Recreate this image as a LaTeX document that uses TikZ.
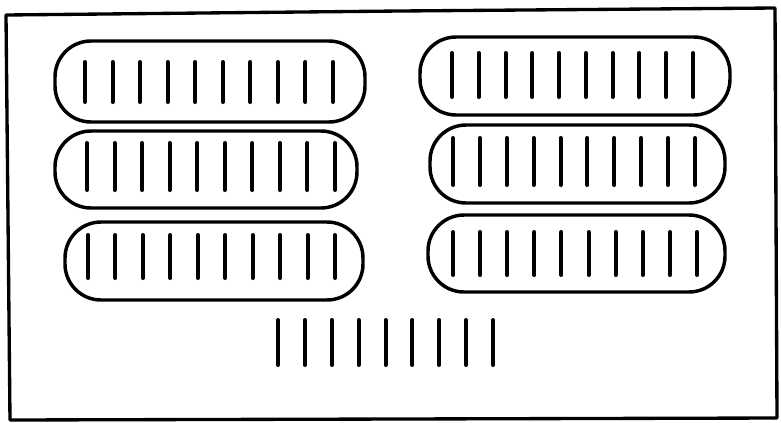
\documentclass[tikz,border=0pt]{standalone}
\tikzset{
  frameline/.style={line width=2.5pt, line join=round, line cap=round},
  blobline/.style={line width=2.6pt, rounded corners=27pt},
  tally/.style={line width=3pt, line cap=round}
}
\newcommand{\blobrow}[8]{% l r t b  sx1 sx2 sy1 sy2
  \draw[blobline] (#1,#3) rectangle (#2,#4);
  \foreach \i in {0,...,9}{
    \draw[tally] ({#5+(#6-#5)*\i/9},#7) -- ({#5+(#6-#5)*\i/9},#8);
  }
}
\begin{document}
\begin{tikzpicture}[x=0.75pt,y=-0.75pt]
\useasboundingbox (0,0) rectangle (781,422);
% frame
\draw[frameline] (10,420) -- (6,15) -- (400,11) -- (775,8) -- (777,418) -- (400,419) -- (10,420);
% blobs
\blobrow{55}{365}{41}{122}{85}{333}{62}{102}
\blobrow{420}{730}{37}{115}{452}{693}{53}{97}
\blobrow{55}{357}{131}{208}{87}{335}{143}{190}
\blobrow{430}{725}{125}{203}{453}{695}{138}{185}
\blobrow{65}{363}{222}{300}{88}{335}{235}{278}
\blobrow{428}{725}{215}{292}{453}{697}{232}{275}
% loose strokes
\foreach \i in {0,...,8}{
  \draw[tally] ({278+(493-278)*\i/8},320) -- ({278+(493-278)*\i/8},365);
}
\end{tikzpicture}
\end{document}
